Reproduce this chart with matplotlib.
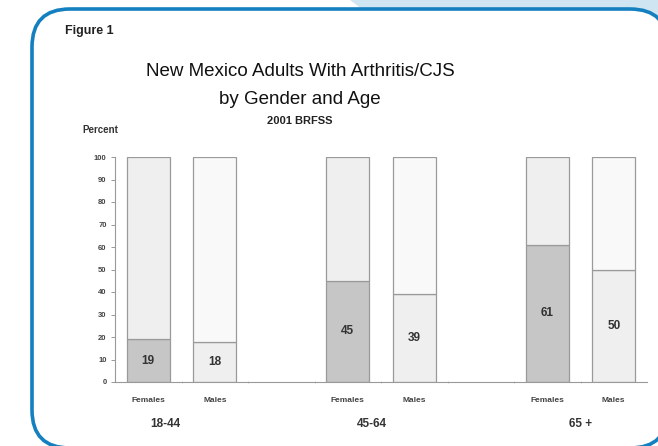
import matplotlib
matplotlib.use("Agg")
import matplotlib.pyplot as plt
from matplotlib.patches import FancyBboxPatch, Polygon

plt.rcParams['font.family'] = ['Liberation Sans', 'DejaVu Sans']

# ---- data ----
age_groups = ["18-44", "45-64", "65 +"]
genders = ["Females", "Males"]
females = [19, 45, 61]
males = [18, 39, 50]
y_ticks = [0, 10, 20, 30, 40, 50, 60, 70, 80, 90, 100]

W, H = 658, 446
fig = plt.figure(figsize=(W / 100, H / 100), dpi=100)

def fx(x):
    return x / W

def fy(y):
    return 1 - y / H

# background / frame
bg = fig.add_axes([0, 0, 1, 1])
bg.set_xlim(0, W)
bg.set_ylim(H, 0)
bg.axis('off')
bg.add_patch(Polygon([(350, 0), (363, 10), (640, 10), (658, 30), (658, 0)],
                     closed=True, facecolor='#cfe5f1', edgecolor='none', zorder=1))
bg.add_patch(FancyBboxPatch((32, 9), 668 - 32, 448 - 9,
                            boxstyle="round,pad=0,rounding_size=38",
                            facecolor='white', edgecolor='#1580c0', linewidth=2.6, zorder=2))

# texts
fig.text(fx(65), fy(31), "Figure 1", fontsize=9, fontweight='bold', color='#222222',
         ha='left', va='center')
fig.text(fx(300), fy(72), "New Mexico Adults With Arthritis/CJS", fontsize=13.5,
         color='#111111', ha='center', va='center')
fig.text(fx(300), fy(100), "by Gender and Age", fontsize=13.5,
         color='#111111', ha='center', va='center')
fig.text(fx(300), fy(121), "2001 BRFSS", fontsize=8, fontweight='bold',
         color='#222222', ha='center', va='center')
fig.text(fx(82), fy(130), "Percent", fontsize=7, fontweight='bold',
         color='#333333', ha='left', va='center')

# main axes
left, right = 115, 647
top, bottom = 157, 382
ax = fig.add_axes([fx(left), fy(bottom), (right - left) / W, (bottom - top) / H])
ax.patch.set_alpha(0)

n_slots = 8
width = 0.65
edge = '#9a9a9a'
group_label_shift = [-0.25, -0.14, 0.0]
for i, (f, m) in enumerate(zip(females, males)):
    xf = 3 * i
    xm = 3 * i + 1
    ax.bar(xf, f, width=width, color='#c6c6c6', edgecolor=edge, linewidth=0.9)
    ax.bar(xf, 100 - f, bottom=f, width=width, color='#efefef', edgecolor=edge, linewidth=0.9)
    ax.bar(xm, m, width=width, color='#efefef', edgecolor=edge, linewidth=0.9)
    ax.bar(xm, 100 - m, bottom=m, width=width, color='#f9f9f9', edgecolor=edge, linewidth=0.9)
    ax.text(xf, f / 2, str(f), ha='center', va='center', fontsize=8.5,
            fontweight='bold', color='#333333')
    ax.text(xm, m / 2, str(m), ha='center', va='center', fontsize=8.5,
            fontweight='bold', color='#333333')
    ax.text(xf, -8, genders[0], ha='center', va='center', fontsize=6,
            fontweight='bold', color='#444444')
    ax.text(xm, -8, genders[1], ha='center', va='center', fontsize=6,
            fontweight='bold', color='#444444')
    ax.text(3 * i + 0.5 + group_label_shift[i], -18.5, age_groups[i], ha='center',
            va='center', fontsize=8.5, fontweight='bold', color='#333333')

ax.set_xlim(-0.5, n_slots - 0.5)
ax.set_ylim(0, 100)
ax.set_yticks(y_ticks)
ax.set_yticklabels([str(t) for t in y_ticks], fontsize=5.5, fontweight='bold', color='#444444')
ax.set_xticks([k - 0.5 for k in range(1, n_slots)])
ax.set_xticklabels([])
ax.tick_params(axis='y', length=3, width=0.6, color='#888888', pad=3)
ax.tick_params(axis='x', length=2, width=0.5, color='#bbbbbb', direction='inout')
for s in ['top', 'right']:
    ax.spines[s].set_visible(False)
for s in ['left', 'bottom']:
    ax.spines[s].set_color('#999999')
    ax.spines[s].set_linewidth(0.8)

fig.savefig("out.png", dpi=100)
